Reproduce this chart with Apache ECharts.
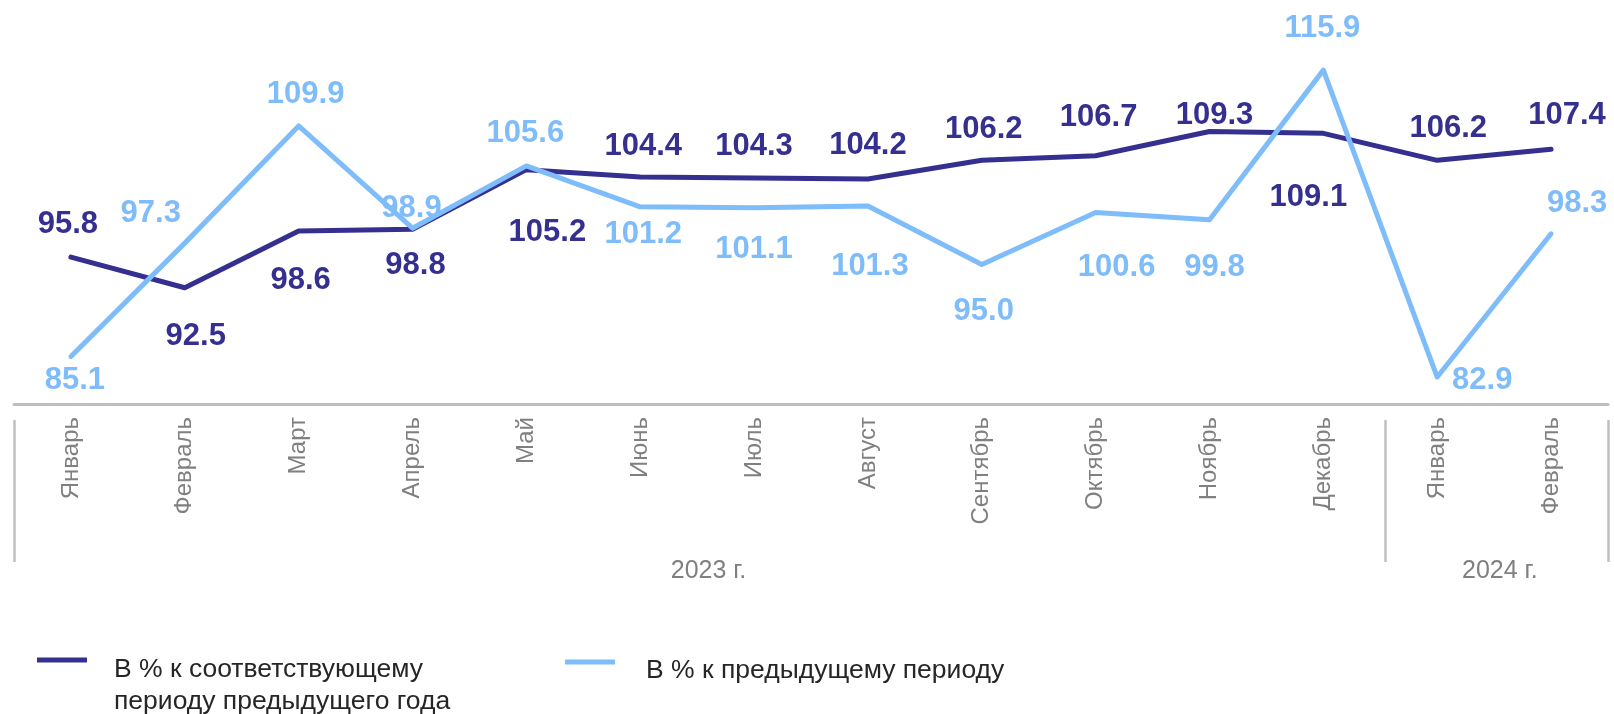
<!DOCTYPE html>
<html>
<head>
<meta charset="utf-8">
<script src="https://cdn.jsdelivr.net/npm/echarts@6/dist/echarts.min.js"></script>
<style>
html,body{margin:0;padding:0;background:#fff;}
#chart{width:1614px;height:714px;}
</style>
</head>
<body>
<div id="chart"></div>
<script>
const categories = ['Январь','Февраль','Март','Апрель','Май','Июнь','Июль','Август','Сентябрь','Октябрь','Ноябрь','Декабрь','Январь','Февраль'];
const yearLabels = ['2023 г.', '2024 г.'];
const seriesNames = ['В % к соответствующему периоду предыдущего года', 'В % к предыдущему периоду'];
const legendLines1 = ['В % к соответствующему', 'периоду предыдущего года'];
const legendLines2 = ['В % к предыдущему периоду'];
const yoyValues = [95.8, 92.5, 98.6, 98.8, 105.2, 104.4, 104.3, 104.2, 106.2, 106.7, 109.3, 109.1, 106.2, 107.4];
const momValues = [85.1, 97.3, 109.9, 98.9, 105.6, 101.2, 101.1, 101.3, 95.0, 100.6, 99.8, 115.9, 82.9, 98.3];

// label offsets (layout only)
const yoyLabelOffsets = [[-3,-33],[11,49],[2,49],[3,36],[21,63],[3,-31],[0,-32],[0,-33],[2,-31],[3,-38],[5,-16],[-15,64],[11,-32],[16,-34]];
const momLabelOffsets = [[4,24],[-34,-30],[7,-31],[-1,-20],[-1,-32],[3,28],[0,42],[2,61],[2,47],[21,55],[5,48],[-1,-42],[45,3],[26,-30]];

const DARK = '#35308f';
const LIGHT = '#7fbcfa';
const FONT = '"Liberation Sans", Arial, sans-serif';

function buildData(values, offsets) {
  return values.map((v, i) => ({ value: v, label: { offset: offsets[i] } }));
}
const fmt = (p) => Number(p.value).toFixed(1);
function legendText(lines) {
  return '{s| }\n' + lines.map(l => '{t|' + l + '}').join('\n');
}
function legendRich(spacer) {
  return {
    s: { lineHeight: spacer, fontSize: 10, color: '#ffffff', fontFamily: FONT },
    t: { lineHeight: 32, fontSize: 26.5, color: '#262626', fontFamily: FONT }
  };
}

const chart = echarts.init(document.getElementById('chart'), null, { renderer: 'canvas' });
chart.setOption({
  animation: false,
  textStyle: { fontFamily: FONT },
  grid: { left: 14, right: 6, top: 32, bottom: 310, containLabel: false, outerBoundsMode: 'none' },
  legend: [
    {
      data: [seriesNames[0]],
      left: 37, top: 623, padding: 0,
      icon: 'rect', itemWidth: 50, itemHeight: 5,
      selectedMode: false,
      formatter: () => legendText(legendLines1),
      textStyle: { fontSize: 26.5, color: '#262626', padding: [0, 0, 0, 22], fontFamily: FONT, rich: legendRich(52) }
    },
    {
      data: [seriesNames[1]],
      left: 565, top: 641, padding: 0,
      icon: 'rect', itemWidth: 50, itemHeight: 5,
      selectedMode: false,
      formatter: () => legendText(legendLines2),
      textStyle: { fontSize: 26.5, color: '#262626', padding: [0, 0, 0, 26], fontFamily: FONT, rich: legendRich(18) }
    }
  ],
  xAxis: [
    {
      type: 'category',
      data: categories,
      boundaryGap: true,
      axisLine: { show: true, lineStyle: { color: '#bfbfbf', width: 3 } },
      axisTick: { show: false },
      splitLine: { show: false },
      axisLabel: { interval: 0, rotate: 90, fontSize: 24, color: '#808080', margin: 13, fontFamily: FONT }
    },
    {
      type: 'value',
      min: 0, max: 14,
      position: 'bottom',
      offset: 16,
      axisLine: { show: false },
      splitLine: { show: false },
      axisTick: { show: true, customValues: [0, 12.04, 14], length: 142, lineStyle: { color: '#bfbfbf', width: 2.5 } },
      axisLabel: {
        customValues: [6.1, 13.05],
        formatter: (v) => (v < 12 ? yearLabels[0] : yearLabels[1]),
        margin: 139, fontSize: 25, color: '#808080', fontFamily: FONT
      }
    }
  ],
  yAxis: { type: 'value', min: 80, max: 120, show: false },
  series: [
    {
      name: seriesNames[0],
      type: 'line',
      xAxisIndex: 0,
      data: buildData(yoyValues, yoyLabelOffsets),
      color: DARK,
      symbol: 'circle', symbolSize: 0.1, showSymbol: true,
      lineStyle: { color: DARK, width: 5, cap: 'round', join: 'round' },
      itemStyle: { color: DARK },
      label: { show: true, position: 'inside', formatter: fmt, fontSize: 31, fontWeight: 'bold', color: DARK, fontFamily: FONT },
      z: 2
    },
    {
      name: seriesNames[1],
      type: 'line',
      xAxisIndex: 0,
      data: buildData(momValues, momLabelOffsets),
      color: LIGHT,
      symbol: 'circle', symbolSize: 0.1, showSymbol: true,
      lineStyle: { color: LIGHT, width: 5, cap: 'round', join: 'round' },
      itemStyle: { color: LIGHT },
      label: { show: true, position: 'inside', formatter: fmt, fontSize: 31, fontWeight: 'bold', color: LIGHT, fontFamily: FONT },
      z: 3
    }
  ]
});
</script>
</body>
</html>
